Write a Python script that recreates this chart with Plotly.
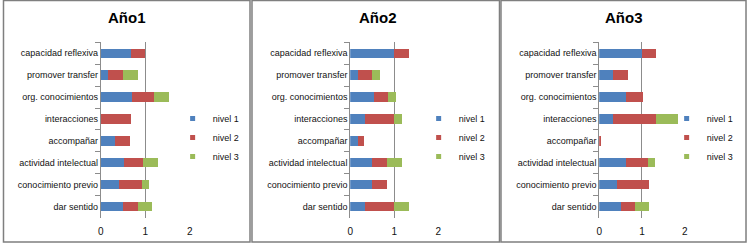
import plotly.graph_objects as go

categories = ["capacidad reflexiva", "promover transfer", "org. conocimientos",
              "interacciones", "accompañar", "actividad intelectual",
              "conocimiento previo", "dar sentido"]

titles = ["Año1", "Año2", "Año3"]
series_names = ["nivel 1", "nivel 2", "nivel 3"]

# Año1
a1_n1 = [0.67, 0.17, 0.70, 0.00, 0.33, 0.53, 0.41, 0.50]
a1_n2 = [0.33, 0.33, 0.50, 0.67, 0.33, 0.42, 0.51, 0.33]
a1_n3 = [0.00, 0.33, 0.33, 0.00, 0.00, 0.33, 0.17, 0.33]
# Año2
a2_n1 = [1.00, 0.17, 0.53, 0.33, 0.17, 0.50, 0.50, 0.33]
a2_n2 = [0.33, 0.33, 0.33, 0.67, 0.14, 0.33, 0.33, 0.67]
a2_n3 = [0.00, 0.17, 0.18, 0.17, 0.00, 0.35, 0.00, 0.34]
# Año3
a3_n1 = [1.00, 0.33, 0.63, 0.33, 0.00, 0.63, 0.41, 0.50]
a3_n2 = [0.33, 0.34, 0.39, 1.00, 0.05, 0.50, 0.75, 0.33]
a3_n3 = [0.00, 0.00, 0.00, 0.50, 0.00, 0.17, 0.00, 0.34]

x_ticks = [0, 1, 2]

colors = ["#4F81BD", "#C0504D", "#9BBB59"]
W, H = 750, 243

panels = [
    [a1_n1, a1_n2, a1_n3],
    [a2_n1, a2_n2, a2_n3],
    [a3_n1, a3_n2, a3_n3],
]

# layout geometry in pixels
x_domains_px = [(98.5, 188.3), (350.0, 438.7), (601.0, 687.3)]
y_domain_px = (42.3, 217.5)
title_x_px = [125, 378, 626]
legend_x_px = [171, 419, 669]
panel_rects = [(0.5, 0.5, 249, 242), (251, 0.5, 500.5, 242), (502, 0.5, 749, 242)]

fig = go.Figure()
gray = "#8C8C8C"
font_family = "Liberation Sans, Arial, sans-serif"

for p, data in enumerate(panels):
    sfx = "" if p == 0 else str(p + 1)
    leg = "legend" if p == 0 else f"legend{p + 1}"
    for s, vals in enumerate(data):
        fig.add_trace(go.Bar(
            y=categories, x=vals, name=series_names[s], orientation="h",
            marker=dict(color=colors[s], line=dict(width=0)),
            xaxis="x" + sfx, yaxis="y" + sfx, showlegend=False,
        ))
    # legend entries (small square markers like the original)
    for s in range(3):
        fig.add_trace(go.Scatter(
            x=[None], y=[None], mode="markers", name=series_names[s],
            marker=dict(symbol="square", size=5, color=colors[s]),
            xaxis="x" + sfx, yaxis="y" + sfx, legend=leg, showlegend=True,
        ))
    x0, x1 = x_domains_px[p]
    fig.layout["xaxis" + sfx] = dict(
        domain=[x0 / W, x1 / W], anchor="y" + sfx, range=[0, 2],
        tickvals=x_ticks, showgrid=True, gridcolor=gray, gridwidth=1,
        zeroline=False, showline=False, ticks="",
        tickfont=dict(size=10, color="#111", family=font_family),
        ticklabelstandoff=6, fixedrange=True,
    )
    fig.layout["yaxis" + sfx] = dict(
        domain=[1 - y_domain_px[1] / H, 1 - y_domain_px[0] / H],
        anchor="x" + sfx, type="category", categoryorder="array",
        categoryarray=categories, autorange="reversed",
        showgrid=False, showline=True, linecolor=gray, linewidth=1,
        ticks="outside", tickson="boundaries", ticklen=5, tickcolor=gray,
        tickfont=dict(size=9, color="#111", family=font_family),
        zeroline=False, fixedrange=True,
    )
    fig.layout[leg] = dict(
        x=legend_x_px[p] / W, xanchor="left", y=1 - 104 / H, yanchor="top",
        bgcolor="rgba(0,0,0,0)", traceorder="normal",
        font=dict(size=9, color="#111", family=font_family),
    )
    fig.add_annotation(
        text="<b>" + titles[p] + "</b>", xref="paper", yref="paper",
        x=title_x_px[p] / W, y=1 - 17 / H, xanchor="center", yanchor="middle",
        showarrow=False, font=dict(size=15, color="#000", family=font_family),
    )
    rx0, ry0, rx1, ry1 = panel_rects[p]
    fig.add_shape(type="rect", xref="paper", yref="paper",
                  x0=rx0 / W, x1=rx1 / W, y0=1 - ry1 / H, y1=1 - ry0 / H,
                  line=dict(color="#7F7F7F", width=1.5))

fig.update_layout(
    barmode="stack", bargap=0.57, width=W, height=H, autosize=False,
    margin=dict(l=0, r=0, t=0, b=0), plot_bgcolor="white", paper_bgcolor="white",
    font=dict(family=font_family),
)

fig.write_html("out.html", config={"displayModeBar": False},
               post_script="document.body.style.margin='0';")
